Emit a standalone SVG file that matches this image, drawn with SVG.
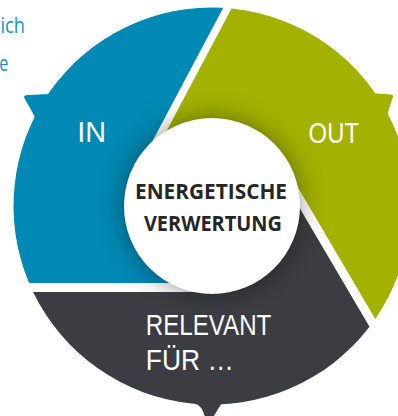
<svg xmlns="http://www.w3.org/2000/svg" width="398" height="416" viewBox="0 0 398 416">
<style>
text{font-family:"Open Sans","Liberation Sans",sans-serif}
.c-in{fill:#0089b4}
.c-out{fill:#a3b200}
.c-rel{fill:#3c3d42}
.lbl{fill:#fff;font-size:29px;font-family:"Liberation Sans",Arial,sans-serif}
.lbl2{fill:#fff;font-size:30px;font-family:"Liberation Sans",Arial,sans-serif}
.ctr{fill:#262626;font-size:22px;font-weight:700;text-anchor:middle}
.side{fill:#1a8ec4;font-size:22px}
</style>
<defs>
<radialGradient id="shade" gradientUnits="userSpaceOnUse" cx="212" cy="206" r="118">
<stop offset="0.735" stop-color="#000" stop-opacity="0.24"/>
<stop offset="0.78" stop-color="#000" stop-opacity="0.14"/>
<stop offset="0.87" stop-color="#000" stop-opacity="0.04"/>
<stop offset="1" stop-color="#000" stop-opacity="0"/>
</radialGradient>
</defs>
<rect width="398" height="416" fill="#fff"/>
<g id="intro-text">
<text class="side" x="0.5" y="32.5" textLength="24.5" lengthAdjust="spacingAndGlyphs">ich</text>
<text class="side" x="-0.8" y="70.5" textLength="9.2" lengthAdjust="spacingAndGlyphs">e</text>
</g>
<g id="node-in">
<path class="c-in" d="M29.04,283 A198.5,198.5 0 0 1 223.28,7.86 L138.71,167.07 L212,283 Z"/>
<path class="c-in" d="M52,100 L48.1,94 C40,94.5 31,95 26.5,95.2 Q23,95.5 24.6,98.6 C28,104.5 31.5,110.5 34.6,117 L44,112 Z"/>
<text class="lbl" x="77.3" y="142" textLength="28.8" lengthAdjust="spacingAndGlyphs">IN</text>
</g>
<g id="node-out">
<path class="c-out" d="M231.54,8.5 A198.5,198.5 0 0 1 375.28,318.9 L283.98,163.67 L145.42,170.64 Z"/>
<path class="c-out" d="M372,100 L375.5,93.5 C382,94 387,94.3 390.5,94.5 Q394,94.8 392.8,97.5 C391,103 389,108.5 387.6,114 L380,110 Z"/>
<text class="lbl" x="308.6" y="142.5" textLength="50.4" lengthAdjust="spacingAndGlyphs">OUT</text>
</g>
<g id="node-relevant">
<path class="c-rel" d="M369.5,326.83 A198.5,198.5 0 0 1 33.1,292 L212,292 L276.22,168.23 Z"/>
<path class="c-rel" d="M192,398 L195,403.8 Q202.5,405.5 205.5,419 L206.5,424 L209,424 L221,404.3 L224,398 Z"/>
<text class="lbl2" x="145.8" y="335" textLength="125.5" lengthAdjust="spacingAndGlyphs">RELEVANT</text>
<text class="lbl2" x="145.8" y="370" textLength="88" lengthAdjust="spacingAndGlyphs">FÜR …</text>
</g>
<g id="node-center">
<circle cx="212" cy="206" r="118" fill="url(#shade)"/>
<circle cx="212" cy="206" r="88" fill="#fff"/>
<text class="ctr" x="211" y="199" textLength="152" lengthAdjust="spacingAndGlyphs">ENERGETISCHE</text>
<text class="ctr" x="212.9" y="231" textLength="138" lengthAdjust="spacingAndGlyphs">VERWERTUNG</text>
</g>
</svg>
